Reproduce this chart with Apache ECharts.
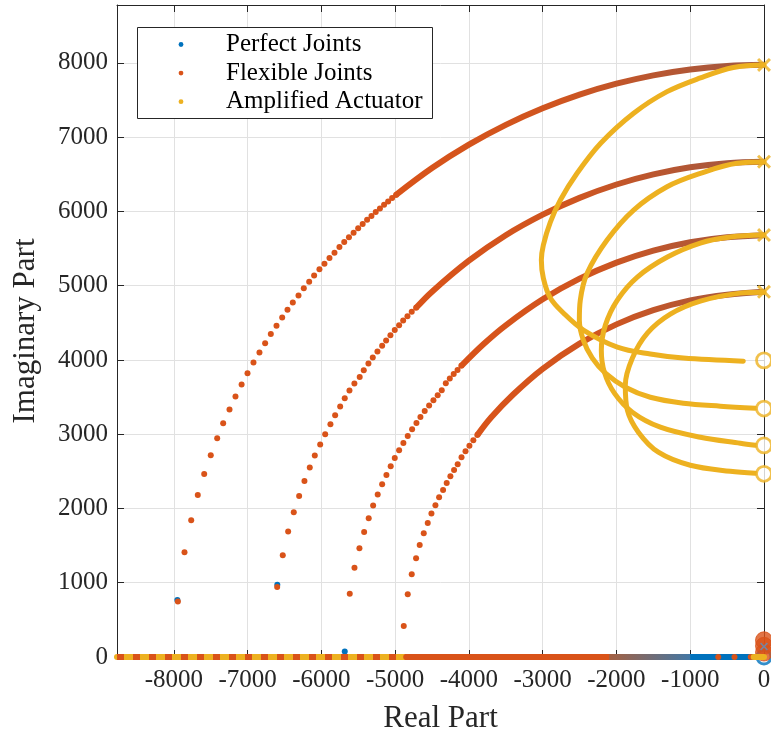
<!DOCTYPE html>
<html><head><meta charset="utf-8">
<script src="https://cdn.jsdelivr.net/npm/echarts@6/dist/echarts.min.js"></script>
<style>html,body{margin:0;padding:0;background:#fff}#c{width:771px;height:733px}</style>
</head><body><div id="c"></div>
<script>
const seriesNames = ['Perfect Joints', 'Flexible Joints', 'Amplified Actuator'];
const xTickValues = [-8000, -7000, -6000, -5000, -4000, -3000, -2000, -1000, 0];
const yTickValues = [0, 1000, 2000, 3000, 4000, 5000, 6000, 7000, 8000];
const xRange = [-8770, 0];
const yRange = [0, 8780];

// Flexible joints: sparse root-locus dots of each branch
const flexArc1Dots = [[-7945,749],[-7855,1410],[-7764,1841],[-7675,2182],[-7588,2465],[-7499,2717],[-7412,2946],[-7331,3148],[-7245,3333],[-7164,3508],[-7081,3670],[-7001,3822],[-6920,3966],[-6839,4101],[-6762,4226],[-6685,4348],[-6608,4460],[-6531,4573],[-6459,4675],[-6387,4775],[-6310,4869],[-6238,4964],[-6165,5053],[-6098,5139],[-6026,5220],[-5958,5295],[-5890,5372],[-5822,5443],[-5755,5521],[-5690,5588],[-5626,5652],[-5563,5714],[-5501,5774],[-5440,5832],[-5380,5887],[-5321,5940],[-5263,5992],[-5206,6041],[-5150,6089],[-5095,6135],[-5041,6180],[-4988,6223]];
const flexArc2Dots = [[-6599,942],[-6523,1369],[-6450,1689],[-6374,1949],[-6301,2169],[-6229,2371],[-6157,2551],[-6089,2713],[-6016,2861],[-5948,3000],[-5877,3135],[-5813,3256],[-5745,3373],[-5683,3485],[-5619,3589],[-5552,3683],[-5480,3772],[-5425,3862],[-5362,3953],[-5303,4034],[-5240,4115],[-5176,4190],[-5122,4263],[-5064,4334],[-5005,4402],[-4946,4469],[-4891,4532],[-4833,4590],[-4775,4648],[-4716,4702]];
const flexArc3Dots = [[-5615,853],[-5551,1203],[-5484,1464],[-5420,1683],[-5358,1868],[-5298,2039],[-5236,2187],[-5176,2326],[-5118,2452],[-5060,2569],[-5005,2681],[-4946,2784],[-4888,2883],[-4829,2977],[-4770,3067],[-4711,3152],[-4657,3233],[-4599,3314],[-4539,3387],[-4481,3458],[-4423,3526],[-4368,3593],[-4313,3688],[-4259,3751],[-4206,3810],[-4154,3866],[-4103,3921]];
const flexArc4Dots = [[-4883,417],[-4829,844],[-4775,1113],[-4716,1329],[-4667,1508],[-4612,1666],[-4558,1805],[-4508,1931],[-4454,2043],[-4404,2151],[-4350,2249],[-4301,2344],[-4251,2434],[-4201,2519],[-4152,2596],[-4100,2690],[-4046,2770],[-3993,2846],[-3940,2918],[-3886,2988]];
// Flexible joints: dense part of each branch (dots merge into a band)
const flexArc1Dense = [[-4988,6223],[-4500,6584],[-4000,6899],[-3500,7166],[-3000,7389],[-2500,7573],[-2000,7720],[-1500,7833],[-1000,7912],[-500,7959],[0,7975]];
const flexArc2Dense = [[-4716,4702],[-4500,4920],[-4000,5337],[-3500,5680],[-3000,5957],[-2500,6183],[-2000,6363],[-1500,6499],[-1000,6595],[-500,6650],[0,6668]];
const flexArc3Dense = [[-4103,3921],[-3800,4215],[-3500,4467],[-3000,4817],[-2500,5095],[-2000,5311],[-1500,5473],[-1000,5586],[-500,5653],[0,5680]];
const flexArc4Dense = [[-3886,2988],[-3700,3225],[-3400,3535],[-3000,3881],[-2500,4220],[-2000,4479],[-1500,4670],[-1000,4802],[-500,4879],[0,4918]];
// Real-axis branches
const realAxisLeft = [[-8770,0],[-4850,0]];
const flexRealMid = [[-4850,0],[-2100,0]];
const mixRealSegment = [[-2100,0],[-1000,0]];
const perfRealRight = [[-1100,0],[-40,0]];
const flexRealDots = [[-620,0],[-400,0],[-180,0]];
const ampRealNearZero = [[-140,0],[0,0]];
const perfVisibleDots = [[-6597,972],[-5683,75],[-7952,768],[-6984,0],[-6374,0],[-5700,0],[-4650,0]];
const flexZerosNearOrigin = [[0,60],[0,150],[0,225]];
const perfZeroOrigin = [[0,0]];
const perfPoleOrigin = [[0,140]];

// Amplified actuator loops (pole -> zero)
const ampLoop1 = [[0,7973],[-416,7939],[-863,7798],[-1314,7613],[-1767,7322],[-2214,6918],[-2534,6514],[-2760,6154],[-2896,5857],[-2991,5547],[-3018,5345],[-2991,5103],[-2896,4834],[-2719,4632],[-2448,4403],[-1988,4174],[-1541,4080],[-1094,4025],[-281,3984]];
const ampLoop2 = [[0,6665],[-366,6648],[-863,6513],[-1314,6333],[-1767,6019],[-2127,5615],[-2398,5166],[-2490,4806],[-2503,4537],[-2449,4267],[-2327,4024],[-2150,3822],[-1879,3633],[-1541,3498],[-1094,3418],[-592,3378],[-118,3351]];
const ampLoop3 = [[0,5682],[-457,5655],[-863,5574],[-1310,5386],[-1717,5116],[-1988,4806],[-2150,4469],[-2205,4132],[-2164,3836],[-2028,3553],[-1785,3297],[-1405,3095],[-863,2960],[-321,2879],[-118,2852]];
const ampLoop4 = [[0,4913],[-321,4900],[-863,4792],[-1270,4617],[-1581,4361],[-1785,4024],[-1880,3660],[-1852,3324],[-1703,3028],[-1432,2758],[-999,2582],[-457,2501],[-118,2474]];
const ampPoles = [[0,7973],[0,6670],[0,5682],[0,4918]];
const ampZeros = [[0,3995],[0,3346],[0,2849],[0,2467]];

const C_BLUE = '#0072BD', C_ORANGE = '#D95319', C_YELLOW = '#EDB120';
const FONT = 'Liberation Serif';
const X_SYMBOL = 'path://M1.5,0L5,3.5L8.5,0L10,1.5L6.5,5L10,8.5L8.5,10L5,6.5L1.5,10L0,8.5L3.5,5L0,1.5Z';

function dots(data, color, size, z) {
  return {type: 'scatter', data, symbol: 'circle', symbolSize: size, itemStyle: {color, opacity: 1}, z, silent: true, clip: false};
}
function band(data, color, width, z, extra) {
  return Object.assign({type: 'line', data, smooth: 0.35, symbol: 'none', lineStyle: {color, width, cap: 'round'}, z, silent: true, clip: false}, extra || {});
}
const brownGrad = () => new echarts.graphic.LinearGradient(0, 0, 1, 0, [
  {offset: 0, color: C_ORANGE}, {offset: 0.45, color: '#cf5520'}, {offset: 1, color: '#9e5844'}]);

const chart = echarts.init(document.getElementById('c'), null, {renderer: 'canvas'});
const axisColor = '#262626';
const series = [
  // Perfect joints (blue)
  dots(perfVisibleDots, C_BLUE, 6, 2),
  band(perfRealRight, C_BLUE, 6, 2, {smooth: false}),
  // Flexible joints (orange)
  band(realAxisLeft, C_YELLOW, 6, 3, {smooth: false}),
  band(realAxisLeft, C_ORANGE, 6, 4, {smooth: false, lineStyle: {color: C_ORANGE, width: 6, type: [7, 9]}}),
  band(flexRealMid, C_ORANGE, 6, 3, {smooth: false}),
  band(mixRealSegment, '#7d6a66', 6, 3, {smooth: false, lineStyle: {width: 6, color: new echarts.graphic.LinearGradient(0,0,1,0,[{offset:0,color:'#a8603f'},{offset:1,color:'#3f78a8'}])}}),
  dots(flexRealDots, C_ORANGE, 6, 4),
  dots(flexArc1Dots, C_ORANGE, 6, 4),
  dots(flexArc2Dots, C_ORANGE, 6, 4),
  dots(flexArc3Dots, C_ORANGE, 6, 4),
  dots(flexArc4Dots, C_ORANGE, 6, 4),
  band(flexArc1Dense, C_ORANGE, 6, 4, {lineStyle: {color: brownGrad(), width: 6}}),
  band(flexArc2Dense, C_ORANGE, 6, 4, {lineStyle: {color: brownGrad(), width: 6}}),
  band(flexArc3Dense, C_ORANGE, 6, 4, {lineStyle: {color: brownGrad(), width: 6}}),
  band(flexArc4Dense, C_ORANGE, 6, 4, {lineStyle: {color: brownGrad(), width: 6}}),
  {type: 'scatter', data: flexZerosNearOrigin, symbol: 'circle', symbolSize: 17, itemStyle: {color: C_ORANGE, borderColor: C_ORANGE, borderWidth: 1}, z: 4, clip: false, silent: true},
  {type: 'scatter', data: perfZeroOrigin, symbol: 'circle', symbolSize: 14, itemStyle: {color: 'rgba(0,0,0,0)', borderColor: C_BLUE, borderWidth: 3}, z: 3, clip: false, silent: true},
  {type: 'scatter', data: perfPoleOrigin, symbol: X_SYMBOL, symbolSize: 8, itemStyle: {color: '#5f8fbf'}, z: 5, clip: false, silent: true},
  // Amplified actuator (yellow)
  band(ampRealNearZero, C_YELLOW, 6, 5, {smooth: false}),
  band(ampLoop1, C_YELLOW, 5, 6),
  band(ampLoop2, C_YELLOW, 5, 6),
  band(ampLoop3, C_YELLOW, 5, 6),
  band(ampLoop4, C_YELLOW, 5, 6),
  {type: 'scatter', data: ampPoles, symbol: X_SYMBOL, symbolSize: 14, itemStyle: {color: C_YELLOW}, z: 7, clip: false, silent: true},
  {type: 'scatter', data: ampZeros, symbol: 'circle', symbolSize: 15, itemStyle: {color: '#ffffff', borderColor: C_YELLOW, borderWidth: 2.8}, z: 7, clip: false, silent: true}
];

const legendTop = 27.5, legendLeft = 137.5, rowH = 28.6;
const legendGraphics = [{type: 'rect', shape: {x: legendLeft, y: legendTop, width: 295, height: 91}, style: {fill: '#fff', stroke: axisColor, lineWidth: 1}, z: 100}];
[C_BLUE, C_ORANGE, C_YELLOW].forEach((col, i) => {
  const cy = legendTop + 17 + i * rowH;
  legendGraphics.push({type: 'circle', shape: {cx: 181, cy, r: 2.4}, style: {fill: col}, z: 101});
  legendGraphics.push({type: 'text', x: 226, y: cy, style: {text: seriesNames[i], font: '25px "' + FONT + '"', fill: '#000', textVerticalAlign: 'middle', verticalAlign: 'middle'}, z: 101});
});

function valueAxis(base) {
  return Object.assign({
    type: 'value',
    splitNumber: 9,
    axisLine: {show: true, onZero: false, lineStyle: {color: axisColor, width: 1}},
    axisTick: {show: true, inside: true, length: 7, lineStyle: {color: axisColor, width: 1}},
    splitLine: {show: false},
    axisLabel: {show: false}
  }, base);
}

chart.setOption({
  animation: false,
  backgroundColor: '#fff',
  grid: {left: 117, right: 7, top: 5, bottom: 76, containLabel: false, outerBoundsMode: 'none'},
  xAxis: [
    valueAxis({min: xRange[0], max: xRange[1], position: 'bottom',
      name: 'Real Part', nameLocation: 'middle', nameGap: 46,
      nameTextStyle: {fontFamily: FONT, fontSize: 31, color: '#262626'},
      splitLine: {show: true, lineStyle: {color: '#e1e1e1', width: 1}},
      axisTick: {show: true, inside: true, length: 7, customValues: xTickValues, lineStyle: {color: axisColor, width: 1}},
      axisLabel: {show: true, customValues: xTickValues, margin: 11, fontFamily: FONT, fontSize: 25, color: '#262626', formatter: v => String(v)}}),
    valueAxis({min: xRange[0], max: xRange[1], position: 'top',
      axisTick: {show: true, inside: true, length: 7, customValues: xTickValues, lineStyle: {color: axisColor, width: 1}}})
  ],
  yAxis: [
    valueAxis({min: yRange[0], max: yRange[1], position: 'left',
      name: 'Imaginary Part', nameLocation: 'middle', nameGap: 76, nameRotate: 90,
      nameTextStyle: {fontFamily: FONT, fontSize: 31, color: '#262626'},
      splitLine: {show: true, lineStyle: {color: '#e1e1e1', width: 1}},
      axisTick: {show: true, inside: true, length: 7, customValues: yTickValues, lineStyle: {color: axisColor, width: 1}},
      axisLabel: {show: true, customValues: yTickValues, margin: 9, fontFamily: FONT, fontSize: 25, color: '#262626', formatter: v => String(v)}}),
    valueAxis({min: yRange[0], max: yRange[1], position: 'right',
      axisTick: {show: true, inside: true, length: 7, customValues: yTickValues, lineStyle: {color: axisColor, width: 1}}})
  ],
  series: series.map(s => Object.assign({xAxisIndex: 0, yAxisIndex: 0}, s)),
  graphic: legendGraphics
});
</script>
</body></html>
